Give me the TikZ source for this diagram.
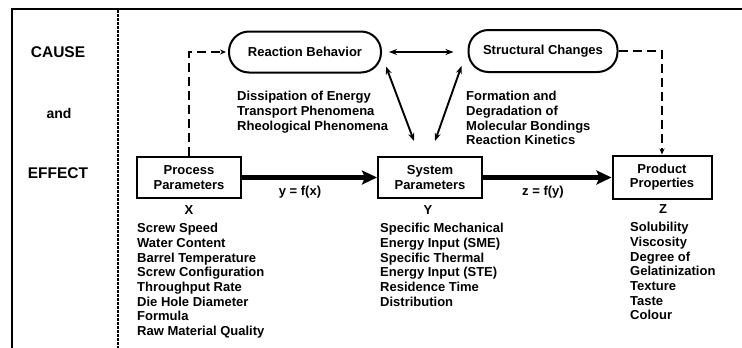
\documentclass[tikz,border=0pt]{standalone}
\usepackage{fontspec}
\setmainfont{Liberation Sans}
\usetikzlibrary{arrows.meta,positioning,calc}

\begin{document}
\begin{tikzpicture}[
  x=1pt, y=-1pt,
  every node/.style={font=\bfseries\fontsize{13}{14.7}\selectfont, inner sep=0pt},
  box/.style={draw, line width=2pt, minimum width=104pt, minimum height=41pt, align=center},
  pill/.style={draw, line width=2pt, rounded corners=20pt, minimum width=152pt, minimum height=41pt},
  list/.style={anchor=north west, align=left},
  sidelbl/.style={font=\bfseries\fontsize{15.5}{18}\selectfont},
  flow/.style={-{Stealth[length=15pt,width=14pt,inset=3pt]}, line width=5.5pt},
  link/.style={{Stealth[length=8pt,width=6pt]}-{Stealth[length=8pt,width=6pt]}, line width=1.9pt},
  feed/.style={-{Stealth[length=6pt,width=5pt]}, line width=2.1pt, dash pattern=on 9pt off 5pt},
  frameline/.style={line width=1.8pt},
  divider/.style={line width=1.5pt, dash pattern=on 2.5pt off 1.5pt}]

\useasboundingbox (0,0) rectangle (742,348);

% ---- frame and the cause / effect column --------------------------------
\draw[frameline] (12,348) -- (12,9) -- (742,9);
\draw[divider] (118,10) -- (118,348);
\node[sidelbl] (cause) at (58,52) {CAUSE};
\node[sidelbl, font=\bfseries\fontsize{14}{16}\selectfont] (andlbl) at (59,113) {and};
\node[sidelbl] (effect) at (58,173) {EFFECT};

% ======================= the three parameter boxes =======================
\node[box] (proc) at (189,177.5) {Process\\Parameters};
\node[box] (sys) at (430,177.5) {System\\Parameters};
\node[box, minimum width=99pt, minimum height=43pt] (prod) at (662,177) {Product\\Properties};

\node (xlbl) at (189,210) {X};
\node (ylbl) at (428,210) {Y};
\node (zlbl) at (663,209) {Z};

\node (fx) at (300,192) {y = f(x)};
\node (fy) at (543,192) {z = f(y)};

\draw[flow] (proc.east) -- (sys.west);
\draw[flow] (sys.east) -- (sys.east -| prod.west);

% ---- what goes into each box ---------------------------------------------
\node[list] (xlist) at (137,223)
  {Screw Speed\\Water Content\\Barrel Temperature\\Screw Configuration\\
   Throughput Rate\\Die Hole Diameter\\Formula\\Raw Material Quality};
\node[list] (ylist) at (380,223)
  {Specific Mechanical\\Energy Input (SME)\\Specific Thermal\\
   Energy Input (STE)\\Residence Time\\Distribution};
\node[list] (zlist) at (630,222)
  {Solubility\\Viscosity\\Degree of\\Gelatinization\\Texture\\Taste\\Colour};

% ======================= the two mechanisms ==============================
\node[pill] (react) at (305,52) {Reaction Behavior};
\node[pill, minimum width=149pt, minimum height=42pt] (struct) at (543,51) {Structural Changes};

\node[list] (reactlist) at (237,91)
  {Dissipation of Energy\\Transport Phenomena\\Rheological Phenomena};
\node[list] (structlist) at (466,91)
  {Formation and\\Degradation of\\Molecular Bondings\\Reaction Kinetics};

\draw[link, shorten <=7pt, shorten >=14pt] (react.east) -- (react.east -| struct.west);
\draw[link] ([xshift=4pt, yshift=7pt]react.south east) -- ([xshift=-16pt, yshift=15pt]sys.north);
\draw[link] ([xshift=-6pt, yshift=7pt]struct.south west) -- ([xshift=5pt, yshift=15pt]sys.north);

\draw[feed, shorten >=2pt] (proc.north) |- (react.west);
\draw[feed] (struct.east) -| (prod.north);

\end{tikzpicture}
\end{document}
